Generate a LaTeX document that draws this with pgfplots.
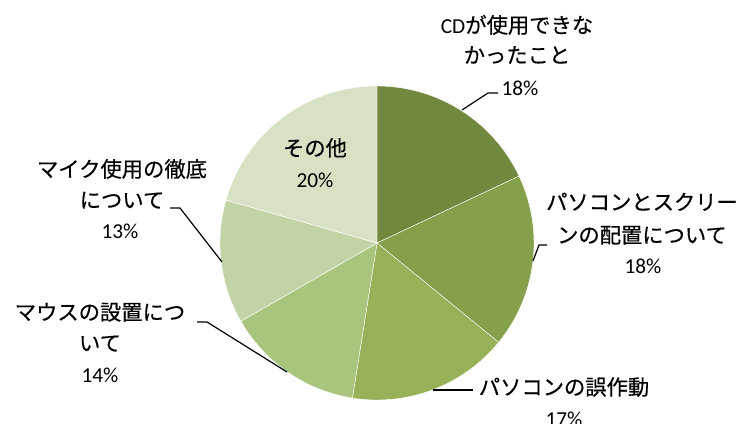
\documentclass[border=0pt]{standalone}
\usepackage{fontspec}
\setmainfont{Carlito}
\newfontfamily\jp[FakeBold=0.4]{Noto Sans CJK JP}
\usepackage{pgfplots}
\usepackage{pgfplotstable}
\pgfplotsset{compat=1.18}

\definecolor{cA}{HTML}{71893F}
\definecolor{cB}{HTML}{84A04A}
\definecolor{cC}{HTML}{96B157}
\definecolor{cD}{HTML}{A9C47D}
\definecolor{cE}{HTML}{C2D3A5}
\definecolor{cF}{HTML}{D7E1C4}

% share of each slice (percent), clockwise from 12 o'clock
\pgfplotstableread{
key    value color
CD     18.0  cA
PCscr  17.9  cB
PCerr  16.6  cC
Mouse  14.2  cD
Mic    12.7  cE
Other  20.6  cF
}\piedata

\newcommand\lbl{\fontsize{21.3pt}{26pt}\selectfont}

\begin{document}
\begin{tikzpicture}
\useasboundingbox (0,0) rectangle (738pt,423pt);
\begin{axis}[hide axis, scale only axis, width=738pt, height=423pt,
  xmin=0, xmax=738, ymin=0, ymax=423, y dir=reverse, clip=false]
\pgfmathsetmacro\cum{0}
\pgfplotsforeachungrouped \i in {0,...,5}{%
  \pgfplotstablegetelem{\i}{value}\of\piedata \let\pval\pgfplotsretval
  \pgfplotstablegetelem{\i}{color}\of\piedata \let\pcol\pgfplotsretval
  \pgfmathsetmacro\sa{90-3.6*\cum}%
  \pgfmathsetmacro\ea{90-3.6*(\cum+\pval)}%
  \edef\cmd{\noexpand\fill[fill=\pcol, draw=white, line width=0.4pt] (axis cs:377,243) -- ++(\sa:157pt) arc[start angle=\sa, end angle=\ea, radius=157pt] -- cycle;}%
  \cmd
  \pgfmathsetmacro\cum{\cum+\pval}%
}
% leader lines
\draw[black, line width=1.2pt] (axis cs:462,110) -- (axis cs:488,93) -- (axis cs:498,93);
\draw[black, line width=1.2pt] (axis cs:533,261) -- (axis cs:539,245) -- (axis cs:547,245);
\draw[black, line width=1.2pt] (axis cs:433,390) -- (axis cs:473,390);
\draw[black, line width=1.2pt] (axis cs:287,372) -- (axis cs:207,322) -- (axis cs:197,322);
\draw[black, line width=1.2pt] (axis cs:222,262) -- (axis cs:180,208) -- (axis cs:170,208);
% labels
\node[anchor=base, inner sep=0pt] at (axis cs:517,33) {\lbl CD{\jp が使用できな}};
\node[anchor=base, inner sep=0pt] at (axis cs:517,63) {\lbl\jp かったこと};
\node[anchor=base, inner sep=0pt] at (axis cs:520,95) {\lbl 18\%};
\node[anchor=base, inner sep=0pt] at (axis cs:642,210) {\lbl\jp パソコンとスクリー};
\node[anchor=base, inner sep=0pt] at (axis cs:642,243) {\lbl\jp ンの配置について};
\node[anchor=base, inner sep=0pt] at (axis cs:643,273) {\lbl 18\%};
\node[anchor=base, inner sep=0pt] at (axis cs:564,395) {\lbl\jp パソコンの誤作動};
\node[anchor=base, inner sep=0pt] at (axis cs:564,426) {\lbl 17\%};
\node[anchor=base, inner sep=0pt] at (axis cs:100,320) {\lbl\jp マウスの設置につ};
\node[anchor=base, inner sep=0pt] at (axis cs:100,351) {\lbl\jp いて};
\node[anchor=base, inner sep=0pt] at (axis cs:100,382) {\lbl 14\%};
\node[anchor=base, inner sep=0pt] at (axis cs:122,177) {\lbl\jp マイク使用の徹底};
\node[anchor=base, inner sep=0pt] at (axis cs:122,208) {\lbl\jp について};
\node[anchor=base, inner sep=0pt] at (axis cs:120,238) {\lbl 13\%};
\node[anchor=base, inner sep=0pt] at (axis cs:315,156) {\lbl\jp その他};
\node[anchor=base, inner sep=0pt] at (axis cs:315,187) {\lbl 20\%};
\end{axis}
\end{tikzpicture}
\end{document}
